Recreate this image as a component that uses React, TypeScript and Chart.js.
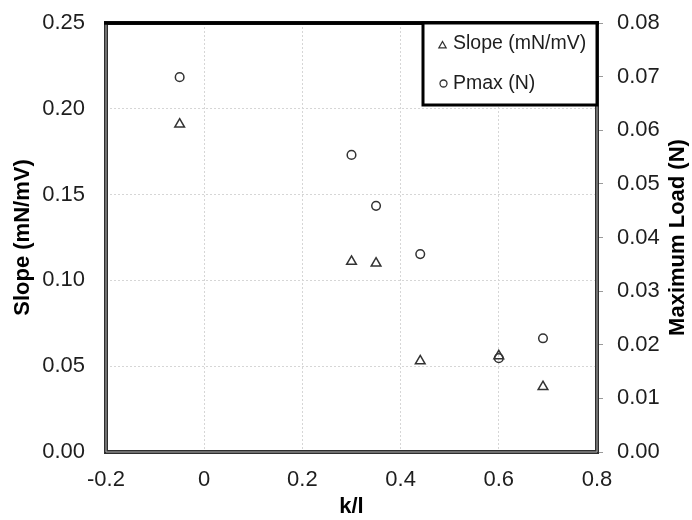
import React, { useEffect, useRef } from "react";
import { Chart, registerables } from "chart.js";

Chart.register(...registerables);

const kl = [-0.05, 0.3, 0.35, 0.44, 0.6, 0.69];
const slopeValues = [0.191, 0.111, 0.11, 0.053, 0.056, 0.038];
const pmaxValues = [0.0699, 0.0554, 0.0459, 0.0369, 0.0175, 0.0212];
const slopeLabel = "Slope (mN/mV)";
const pmaxLabel = "Pmax (N)";
const xTitle = "k/l";
const leftTitle = "Slope (mN/mV)";
const rightTitle = "Maximum Load (N)";

const FONT = '"Liberation Sans", Arial, sans-serif';
const TEXT = "#1e1e1e";
const MARK = "#333333";

const framePlugin = {
  id: "framePlugin",
  afterDraw(chart: any) {
    const { ctx, chartArea } = chart;
    const { left, right, top, bottom } = chartArea;
    ctx.save();
    ctx.strokeStyle = "#2e2e2e";
    ctx.lineWidth = 4;
    ctx.strokeRect(left, top, right - left, bottom - top);
    ctx.strokeStyle = "#b0b0b0";
    ctx.lineWidth = 1;
    ctx.beginPath();
    ctx.moveTo(left, top);
    ctx.lineTo(left, bottom);
    ctx.lineTo(right, bottom);
    ctx.lineTo(right, top);
    ctx.stroke();
    ctx.strokeStyle = "#000";
    ctx.lineWidth = 3.5;
    ctx.beginPath();
    ctx.moveTo(left - 2, top);
    ctx.lineTo(right + 2, top);
    ctx.stroke();

    // legend box
    const lx = 423, ly = top, lw = right - 423, lh = 82;
    ctx.fillStyle = "#fff";
    ctx.fillRect(lx, ly, lw, lh);
    ctx.strokeStyle = "#000";
    ctx.lineWidth = 3;
    ctx.strokeRect(lx, ly, lw, lh);
    ctx.strokeStyle = MARK;
    ctx.lineWidth = 1.3;
    const tx = 442.5, ty = ly + 22;
    ctx.beginPath();
    ctx.moveTo(tx, ty - 3.5);
    ctx.lineTo(tx + 3.6, ty + 2.8);
    ctx.lineTo(tx - 3.6, ty + 2.8);
    ctx.closePath();
    ctx.stroke();
    ctx.beginPath();
    ctx.arc(443.5, ly + 60.5, 3.5, 0, Math.PI * 2);
    ctx.stroke();
    ctx.fillStyle = TEXT;
    ctx.font = `19.5px ${FONT}`;
    ctx.textAlign = "left";
    ctx.textBaseline = "middle";
    ctx.fillText(slopeLabel, 453, ly + 21);
    ctx.fillText(pmaxLabel, 453, ly + 61);

    // right axis title, reading bottom to top
    ctx.save();
    ctx.translate(678, (top + bottom) / 2);
    ctx.rotate(-Math.PI / 2);
    ctx.font = `bold 22px ${FONT}`;
    ctx.fillStyle = "#000";
    ctx.textAlign = "center";
    ctx.textBaseline = "middle";
    ctx.fillText(rightTitle, 0, 0);
    ctx.restore();
    ctx.restore();
  },
};

export default function App() {
  const ref = useRef<HTMLCanvasElement>(null);
  useEffect(() => {
    const canvas = ref.current!;
    const chart = new Chart(canvas, {
      type: "scatter",
      data: {
        datasets: [
          {
            label: slopeLabel,
            data: kl.map((x, i) => ({ x, y: slopeValues[i] })),
            yAxisID: "y",
            pointStyle: "triangle",
            radius: 5.6,
            borderWidth: 1.5,
            borderColor: MARK,
            backgroundColor: "rgba(0,0,0,0)",
          },
          {
            label: pmaxLabel,
            data: kl.map((x, i) => ({ x, y: pmaxValues[i] })),
            yAxisID: "y1",
            pointStyle: "circle",
            radius: 4.3,
            borderWidth: 1.5,
            borderColor: MARK,
            backgroundColor: "rgba(0,0,0,0)",
          },
        ],
      },
      options: {
        animation: false,
        responsive: false,
        maintainAspectRatio: false,
        layout: { padding: { top: 23, left: 0, right: 0, bottom: 0 } },
        plugins: { legend: { display: false }, tooltip: { enabled: false } },
        scales: {
          x: {
            type: "linear",
            position: "bottom",
            min: -0.2,
            max: 0.8,
            afterFit: (s: any) => { s.height = 68; s.paddingLeft = 0; s.paddingRight = 0; },
            ticks: {
              stepSize: 0.2,
              padding: 15,
              color: TEXT,
              font: { family: FONT, size: 22 },
              callback: (v: any) => (Math.abs(v) < 1e-9 ? "0" : Number(v).toFixed(1)),
            },
            grid: { color: "#d6d6d6", lineWidth: 1, drawTicks: false },
            border: { display: false, dash: [2, 2] },
            title: {
              display: true,
              text: xTitle,
              color: "#000",
              font: { family: FONT, size: 22, weight: "bold" },
              padding: { top: 0, bottom: 0 },
            },
          },
          y: {
            type: "linear",
            position: "left",
            min: 0,
            max: 0.25,
            afterFit: (s: any) => { s.width = 106; s.paddingTop = 0; s.paddingBottom = 0; },
            ticks: {
              stepSize: 0.05,
              padding: 21,
              color: TEXT,
              font: { family: FONT, size: 22 },
              callback: (v: any) => Number(v).toFixed(2),
            },
            grid: { color: "#d6d6d6", lineWidth: 1, drawTicks: false },
            border: { display: false, dash: [2, 2] },
            title: {
              display: true,
              text: leftTitle,
              color: "#000",
              font: { family: FONT, size: 22, weight: "bold" },
              padding: { top: 10, bottom: 0 },
            },
          },
          y1: {
            type: "linear",
            position: "right",
            min: 0,
            max: 0.08,
            afterFit: (s: any) => { s.width = 95; s.paddingTop = 0; s.paddingBottom = 0; },
            ticks: {
              stepSize: 0.01,
              padding: 14,
              color: TEXT,
              font: { family: FONT, size: 22 },
              callback: (v: any) => Number(v).toFixed(2),
            },
            grid: {
              drawOnChartArea: false,
              drawTicks: true,
              tickLength: 6,
              tickColor: "#9a9a9a",
              tickWidth: 1,
            },
            border: { display: false },
            title: { display: false },
          },
        },
      },
      plugins: [framePlugin],
    } as any);
    return () => chart.destroy();
  }, []);
  return (
    <div style={{ position: "absolute", left: 0, top: 0, width: 692, height: 520, background: "#fff" }}>
      <canvas ref={ref} width={692} height={520} style={{ display: "block", width: 692, height: 520 }} />
    </div>
  );
}
